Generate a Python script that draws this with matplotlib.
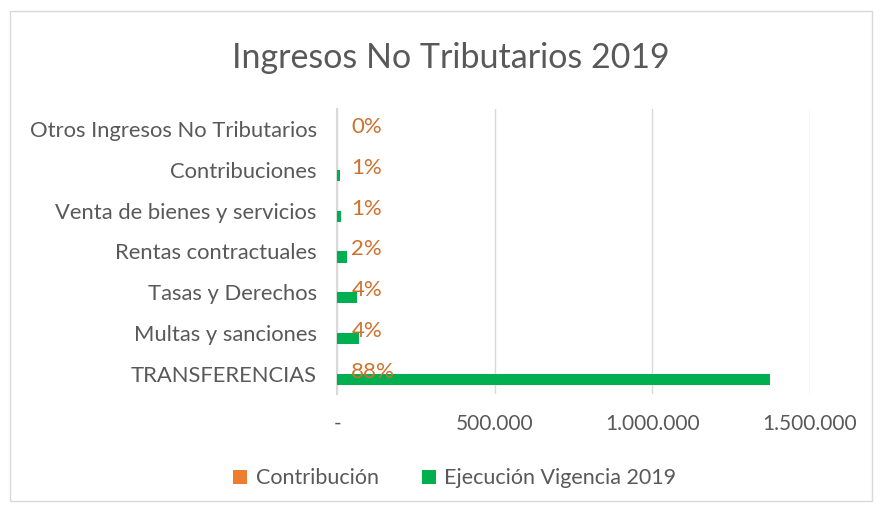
import matplotlib
matplotlib.use("Agg")
import matplotlib.pyplot as plt
from matplotlib.ticker import FuncFormatter

plt.rcParams['font.family'] = ['Lato', 'DejaVu Sans']

categorias = ["TRANSFERENCIAS", "Multas y sanciones", "Tasas y Derechos",
              "Rentas contractuales", "Venta de bienes y servicios",
              "Contribuciones", "Otros Ingresos No Tributarios"]
ejecucion = [1372500, 68000, 62000, 31000, 10000, 7000, 0]
contribucion = [0.88, 0.04, 0.04, 0.02, 0.01, 0.01, 0.00]

gris = "#595959"
verde = "#00B050"
naranja = "#ED7D31"

fig = plt.figure(figsize=(8.83, 5.11), dpi=100)
ax = fig.add_axes([0.3822, 0.2282, 0.5351, 0.5593])

y = list(range(len(categorias)))
h = 0.27
ax.barh([i - h / 2 for i in y], ejecucion, height=h, color=verde,
        label="Ejecución Vigencia 2019", zorder=3)
ax.barh([i + h / 2 for i in y], contribucion, height=h, color=naranja,
        label="Contribución", zorder=3)

for i, p in zip(y, contribucion):
    ax.annotate(f"{p:.0%}", (p, i + 0.05), xytext=(10, 0),
                textcoords="offset points", ha="left", va="center",
                color="#D0702C", fontsize=16, zorder=4)

ax.set_xlim(0, 1500000)
ax.set_ylim(-0.5, len(categorias) - 0.5)
ax.set_xticks([0, 500000, 1000000, 1500000])
ax.xaxis.set_major_formatter(FuncFormatter(
    lambda v, pos: "-" if v == 0 else f"{v:,.0f}".replace(",", ".")))
ax.set_yticks(y)
ax.set_yticklabels(categorias)
ax.tick_params(axis="x", length=0, pad=14, labelsize=15, labelcolor=gris)
ax.tick_params(axis="y", length=0, pad=15, labelsize=15.8, labelcolor=gris)

ax.grid(axis="x", color="#D9D9D9", linewidth=1, zorder=0)
for s in ["top", "right", "bottom"]:
    ax.spines[s].set_visible(False)
ax.spines["left"].set_color("#D9D9D9")
ax.spines["left"].set_linewidth(1.5)

fig.suptitle("Ingresos No Tributarios 2019", x=0.511, y=0.918,
             fontsize=24.5, color=gris)

handles, labels = ax.get_legend_handles_labels()
fig.legend(handles[::-1], labels[::-1], loc="center", ncol=2,
           bbox_to_anchor=(0.515, 0.064), frameon=False, fontsize=15.5,
           labelcolor=gris, handlelength=0.65, handleheight=0.65,
           handletextpad=0.4, columnspacing=2.0)

fig.patches.append(plt.Rectangle((10 / 883, 10 / 511), 862 / 883, 490 / 511,
                                 transform=fig.transFigure, fill=False,
                                 edgecolor="#D9D9D9", linewidth=1))

fig.savefig("out.png", dpi=100)
